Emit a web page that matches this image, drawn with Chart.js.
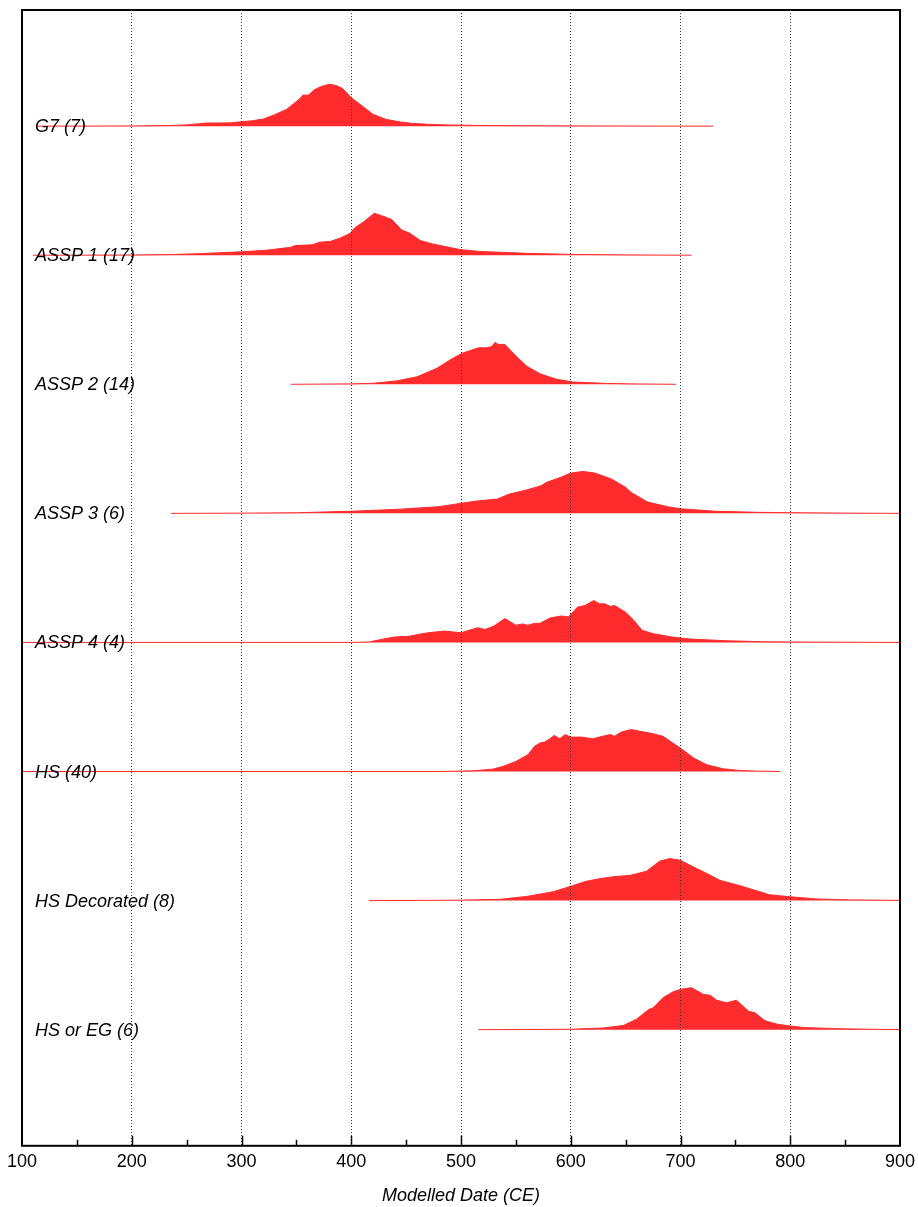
<!DOCTYPE html>
<html>
<head>
<meta charset="utf-8">
<script src="https://cdn.jsdelivr.net/npm/chart.js@4.4.1/dist/chart.umd.min.js"></script>
<style>
  html, body { margin: 0; padding: 0; background: #fff; }
  #wrap { width: 918px; height: 1207px; position: relative; }
</style>
</head>
<body>
<div id="wrap"><canvas id="ridgeChart"></canvas></div>
<script>
// --- DATA (modelled date, relative density 0..1) ---
const groupLabels = ['G7 (7)', 'ASSP 1 (17)', 'ASSP 2 (14)', 'ASSP 3 (6)', 'ASSP 4 (4)', 'HS (40)', 'HS Decorated (8)', 'HS or EG (6)'];
const xTicks = [100, 200, 300, 400, 500, 600, 700, 800, 900];

const g7 = [[114,0],[200,0.005],[235,0.015],[250,0.03],[262,0.06],[268,0.075],[280,0.075],[290,0.08],[298,0.1],[310,0.13],[320,0.17],[330,0.27],[341,0.4],[353,0.65],[356,0.74],[361,0.74],[366,0.86],[372,0.94],[380,1.0],[386,0.97],[392,0.9],[400,0.68],[408,0.52],[420,0.28],[432,0.16],[445,0.1],[456,0.065],[470,0.045],[487,0.03],[517,0.016],[560,0.01],[620,0.005],[730,0]];
const assp1 = [[110,0],[200,0.005],[232,0.015],[260,0.035],[299,0.08],[323,0.12],[345,0.19],[349,0.23],[365,0.25],[371,0.31],[381,0.33],[390,0.41],[399,0.52],[403,0.65],[411,0.79],[421,1.0],[429,0.93],[437,0.85],[446,0.6],[453,0.53],[463,0.35],[474,0.27],[499,0.135],[517,0.09],[536,0.07],[560,0.045],[600,0.02],[650,0.008],[710,0]];
const assp2 = [[345,0],[400,0.01],[420,0.025],[441,0.08],[460,0.18],[478,0.38],[490,0.58],[501,0.74],[516,0.87],[523,0.87],[528,0.9],[531,1.0],[534,0.95],[540,0.95],[551,0.65],[560,0.43],[572,0.25],[587,0.12],[602,0.055],[633,0.02],[660,0.008],[696,0]];
const assp3 = [[236,0],[300,0.005],[350,0.015],[400,0.05],[445,0.1],[480,0.16],[500,0.24],[516,0.3],[533,0.34],[544,0.46],[560,0.56],[573,0.66],[578,0.74],[591,0.86],[600,0.96],[611,1.0],[622,0.96],[637,0.82],[650,0.62],[655,0.5],[670,0.27],[688,0.16],[700,0.11],[732,0.05],[770,0.025],[800,0.016],[850,0.006],[900,0]];
const assp4 = [[100,0],[400,0],[416,0.01],[433,0.1],[440,0.13],[453,0.146],[461,0.19],[470,0.23],[485,0.27],[500,0.23],[515,0.35],[522,0.31],[530,0.39],[540,0.57],[550,0.41],[556,0.44],[561,0.41],[567,0.455],[572,0.455],[581,0.58],[591,0.63],[598,0.61],[606,0.84],[613,0.88],[621,1.0],[626,0.92],[631,0.92],[636,0.86],[640,0.88],[650,0.72],[657,0.54],[665,0.29],[675,0.21],[692,0.13],[709,0.08],[742,0.04],[776,0.016],[800,0.01],[900,0]];
const hs = [[100,0],[480,0],[511,0.016],[529,0.056],[538,0.12],[550,0.24],[561,0.4],[567,0.6],[572,0.68],[576,0.7],[581,0.78],[585,0.86],[590,0.78],[595,0.88],[600,0.82],[610,0.82],[620,0.78],[629,0.84],[636,0.88],[640,0.84],[646,0.94],[655,1.0],[663,0.96],[675,0.9],[684,0.84],[693,0.68],[702,0.52],[712,0.32],[724,0.16],[739,0.064],[754,0.024],[770,0.008],[791,0]];
const hsDecorated = [[416,0],[470,0.004],[500,0.01],[536,0.03],[560,0.1],[584,0.21],[600,0.34],[614,0.46],[626,0.52],[639,0.57],[654,0.6],[660,0.64],[669,0.7],[681,0.94],[690,1.0],[700,0.96],[711,0.81],[723,0.66],[736,0.48],[751,0.38],[766,0.26],[781,0.14],[800,0.09],[823,0.04],[855,0.016],[900,0.005]];
const hsOrEg = [[516,0],[560,0.003],[600,0.01],[630,0.04],[648,0.1],[660,0.25],[671,0.48],[675,0.52],[684,0.76],[693,0.9],[700,0.96],[710,1.0],[721,0.84],[727,0.82],[733,0.7],[742,0.64],[751,0.7],[762,0.44],[768,0.4],[777,0.21],[788,0.13],[800,0.087],[812,0.05],[842,0.024],[870,0.01],[900,0]];

const seriesList = [g7, assp1, assp2, assp3, assp4, hs, hsDecorated, hsOrEg];

// layout of the ridges on the hidden y scale
const yMax = 8.8;
const ridgeHeight = 0.325;
const baseOf = i => 7.9 - i;

const RED = '#ff2b2d';
const FONT = "'Liberation Sans', Arial, Helvetica, sans-serif";

const datasets = seriesList.map((pts, i) => ({
    label: groupLabels[i],
    data: pts.map(([yr, d]) => ({ x: yr, y: baseOf(i) + d * ridgeHeight })),
    borderColor: RED,
    backgroundColor: RED,
    borderWidth: 1,
    pointRadius: 0,
    tension: 0,
    fill: { value: baseOf(i) }
}));

// frame, inward ticks and group labels
const decorPlugin = {
    id: 'decor',
    afterDatasetsDraw(chart) {
        const { ctx, chartArea: a, scales: { x, y } } = chart;
        ctx.save();
        // group labels
        ctx.fillStyle = '#000';
        ctx.font = `italic 18px ${FONT}`;
        ctx.textBaseline = 'middle';
        ctx.textAlign = 'left';
        groupLabels.forEach((lab, i) => {
            ctx.fillText(lab, a.left + 13, y.getPixelForValue(baseOf(i)) + 1);
        });
        // inward tick marks
        ctx.strokeStyle = '#000';
        ctx.lineWidth = 1.5;
        for (let v = 150; v < 900; v += 50) {
            const px = Math.round(x.getPixelForValue(v)) + 0.5;
            const len = v % 100 === 0 ? 10 : 6;
            ctx.beginPath();
            ctx.moveTo(px, a.bottom);
            ctx.lineTo(px, a.bottom - len);
            ctx.stroke();
        }
        // frame
        ctx.lineWidth = 2;
        ctx.strokeRect(a.left, a.top, a.right - a.left, a.bottom - a.top);
        ctx.restore();
    }
};

new Chart(document.getElementById('ridgeChart'), {
    type: 'line',
    data: { datasets },
    options: {
        responsive: true,
        maintainAspectRatio: false,
        animation: false,
        layout: { padding: { left: 22, right: 18, top: 10, bottom: 0 } },
        plugins: {
            legend: { display: false },
            tooltip: { enabled: false }
        },
        scales: {
            x: {
                type: 'linear',
                min: 100,
                max: 900,
                afterBuildTicks: scale => { scale.ticks = xTicks.map(v => ({ value: v })); },
                afterFit: scale => { scale.paddingLeft = 0; scale.paddingRight = 0; },
                ticks: {
                    color: '#000',
                    padding: 5,
                    maxRotation: 0,
                    font: { family: FONT, size: 18 }
                },
                grid: {
                    drawTicks: false,
                    color: ctx => (ctx.tick && (ctx.tick.value === 100 || ctx.tick.value === 900)) ? 'rgba(0,0,0,0)' : '#333',
                    lineWidth: 1,
                    z: 1
                },
                border: { display: false, dash: [1, 2] },
                title: {
                    display: true,
                    text: 'Modelled Date (CE)',
                    color: '#000',
                    font: { family: FONT, size: 18, style: 'italic' },
                    padding: { top: 8, bottom: 0 }
                }
            },
            y: {
                type: 'linear',
                min: 0,
                max: yMax,
                display: false
            }
        }
    },
    plugins: [decorPlugin]
});
</script>
</body>
</html>
